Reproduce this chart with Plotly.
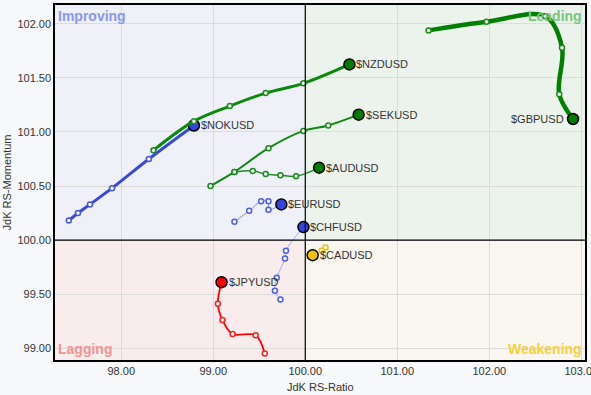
import plotly.graph_objects as go

# ---- data (tail oldest -> head last) ----
symbols = ["$NOKUSD", "$EURUSD", "$CHFUSD", "$JPYUSD", "$CADUSD", "$AUDUSD", "$SEKUSD", "$NZDUSD", "$GBPUSD"]

nok_x = [97.43, 97.53, 97.66, 97.90, 98.30, 98.79]
nok_y = [100.18, 100.25, 100.33, 100.48, 100.75, 101.06]

eur_x = [99.23, 99.39, 99.52, 99.60, 99.60, 99.74]
eur_y = [100.17, 100.27, 100.36, 100.36, 100.28, 100.33]

chf_x = [99.73, 99.67, 99.69, 99.78, 99.79, 99.98]
chf_y = [99.45, 99.53, 99.65, 99.83, 99.90, 100.12]

jpy_x = [99.56, 99.46, 99.21, 99.10, 99.05, 99.09]
jpy_y = [98.95, 99.12, 99.13, 99.26, 99.41, 99.61]

cad_x = [100.22, 100.18, 100.08]
cad_y = [99.93, 99.90, 99.86]

aud_x = [99.23, 99.43, 99.57, 99.73, 99.90, 100.15]
aud_y = [100.63, 100.64, 100.61, 100.60, 100.59, 100.67]

sek_x = [98.97, 99.23, 99.60, 99.98, 100.25, 100.58]
sek_y = [100.50, 100.63, 100.85, 101.01, 101.06, 101.16]

nzd_x = [98.35, 98.79, 99.18, 99.57, 99.98, 100.48]
nzd_y = [100.83, 101.10, 101.24, 101.36, 101.45, 101.625]

gbp_x = [101.34, 101.97, 102.61, 102.79, 102.76, 102.91]
gbp_y = [101.94, 102.02, 102.07, 101.78, 101.35, 101.12]

x_ticks = [98, 99, 100, 101, 102, 103]
y_ticks = [99.0, 99.5, 100.0, 100.5, 101.0, 101.5, 102.0]
quadrant_names = ["Improving", "Leading", "Lagging", "Weakening"]

xs = [nok_x, eur_x, chf_x, jpy_x, cad_x, aud_x, sek_x, nzd_x, gbp_x]
ys = [nok_y, eur_y, chf_y, jpy_y, cad_y, aud_y, sek_y, nzd_y, gbp_y]

# styles
line_colors = ["#3a4ad8", "#7f8ef0", "#a3adf2", "#ff0000", "#f2c200", "#1f8a1f", "#118811", "#0a8a0a", "#008000"]
point_colors = ["#4455dd", "#4d5ee8", "#4d5ee8", "#ff2020", "#f2c200", "#1a8a1a", "#1a8a1a", "#1a8a1a", "#1a8a1a"]
head_colors = ["#3344dd", "#3344dd", "#3344dd", "#ff0000", "#f2c200", "#007a00", "#007a00", "#007a00", "#007a00"]
widths = [3, 1, 1, 1.8, 1, 1.5, 2, 3, 4.5]
label_left = [False, False, False, False, False, False, False, False, True]

XR = [97.28, 103.04]
YR = [98.89, 102.175]

fig = go.Figure()

for sym, x, y, lc, pc, hc, w, ll in zip(symbols, xs, ys, line_colors, point_colors, head_colors, widths, label_left):
    fig.add_trace(go.Scatter(
        x=x, y=y, mode="lines", line=dict(color=lc, width=w, shape="spline", smoothing=1.0),
        hoverinfo="skip", showlegend=False))
    fig.add_trace(go.Scatter(
        x=x[:-1], y=y[:-1], mode="markers",
        marker=dict(size=5, color="white", line=dict(color=pc, width=1.5)),
        hoverinfo="skip", showlegend=False))
    fig.add_trace(go.Scatter(
        x=[x[-1]], y=[y[-1]], mode="markers",
        marker=dict(size=11, color=hc, line=dict(color="black", width=1.5)),
        name=sym, showlegend=False))
    fig.add_annotation(
        x=x[-1], y=y[-1], text=sym, showarrow=False,
        xanchor="right" if ll else "left", yanchor="middle",
        xshift=-7 if ll else 5,
        font=dict(family="Liberation Sans, Arial, sans-serif", size=11, color="#333333"))

# quadrant backgrounds
quad = [
    (XR[0], 100, 100, YR[1], "#eff0f8"),
    (100, XR[1], 100, YR[1], "#ecf3ec"),
    (XR[0], 100, YR[0], 100, "#f8ecec"),
    (100, XR[1], YR[0], 100, "#f8f6ee"),
]
for x0, x1, y0, y1, c in quad:
    fig.add_shape(type="rect", x0=x0, x1=x1, y0=y0, y1=y1, fillcolor=c,
                  line=dict(width=0), layer="below")
fig.add_shape(type="line", x0=100, x1=100, y0=YR[0], y1=YR[1], line=dict(color="black", width=1.2))
fig.add_shape(type="line", x0=XR[0], x1=XR[1], y0=100, y1=100, line=dict(color="black", width=1.2))

qfont = "Liberation Sans, Arial, sans-serif"
fig.add_annotation(x=0.002, y=0.997, xref="paper", yref="paper", text="<b>" + quadrant_names[0] + "</b>",
                   showarrow=False, xanchor="left", yanchor="top", font=dict(family=qfont, size=14, color="#8c96ee"))
fig.add_annotation(x=0.998, y=0.997, xref="paper", yref="paper", text="<b>" + quadrant_names[1] + "</b>",
                   showarrow=False, xanchor="right", yanchor="top", font=dict(family=qfont, size=14, color="#7cc47c"))
fig.add_annotation(x=0.002, y=0.003, xref="paper", yref="paper", text="<b>" + quadrant_names[2] + "</b>",
                   showarrow=False, xanchor="left", yanchor="bottom", font=dict(family=qfont, size=14, color="#f59393"))
fig.add_annotation(x=0.998, y=0.003, xref="paper", yref="paper", text="<b>" + quadrant_names[3] + "</b>",
                   showarrow=False, xanchor="right", yanchor="bottom", font=dict(family=qfont, size=14, color="#f5cf3c"))

# x-axis title as annotation for exact placement
fig.add_annotation(x=0.5, y=0, xref="paper", yref="paper", text="JdK RS-Ratio", showarrow=False,
                   xanchor="center", yanchor="top", yshift=-19,
                   font=dict(family=qfont, size=11, color="#333333"))

tickfont = dict(family="Liberation Sans, Arial, sans-serif", size=11, color="#333333")
fig.update_layout(
    width=591, height=395,
    margin=dict(l=55, r=6, t=5, b=35, autoexpand=False),
    paper_bgcolor="#f7f8fa", plot_bgcolor="#ffffff",
    font=dict(family="Liberation Sans, Arial, sans-serif", size=11, color="#333333"),
    xaxis=dict(range=XR, tickvals=x_ticks, tickformat=".2f", showgrid=True, gridcolor="#dcdcdc",
               zeroline=False, showline=True, linecolor="black", linewidth=1.5, mirror=True,
               automargin=False, ticklabeloverflow="allow",
               tickfont=tickfont, ticks=""),
    yaxis=dict(range=YR, tickvals=y_ticks, tickformat=".2f", showgrid=True, gridcolor="#dcdcdc",
               zeroline=False, showline=True, linecolor="black", linewidth=1.5, mirror=True,
               automargin=False, ticklabeloverflow="allow",
               tickfont=tickfont, ticks="", title=dict(text="JdK RS-Momentum", standoff=4,
               font=dict(size=11, color="#333333"))),
)

fig.write_html("out.html", config={"displayModeBar": False},
               post_script="document.body.style.margin='0';document.body.style.background='#f7f8fa';")
